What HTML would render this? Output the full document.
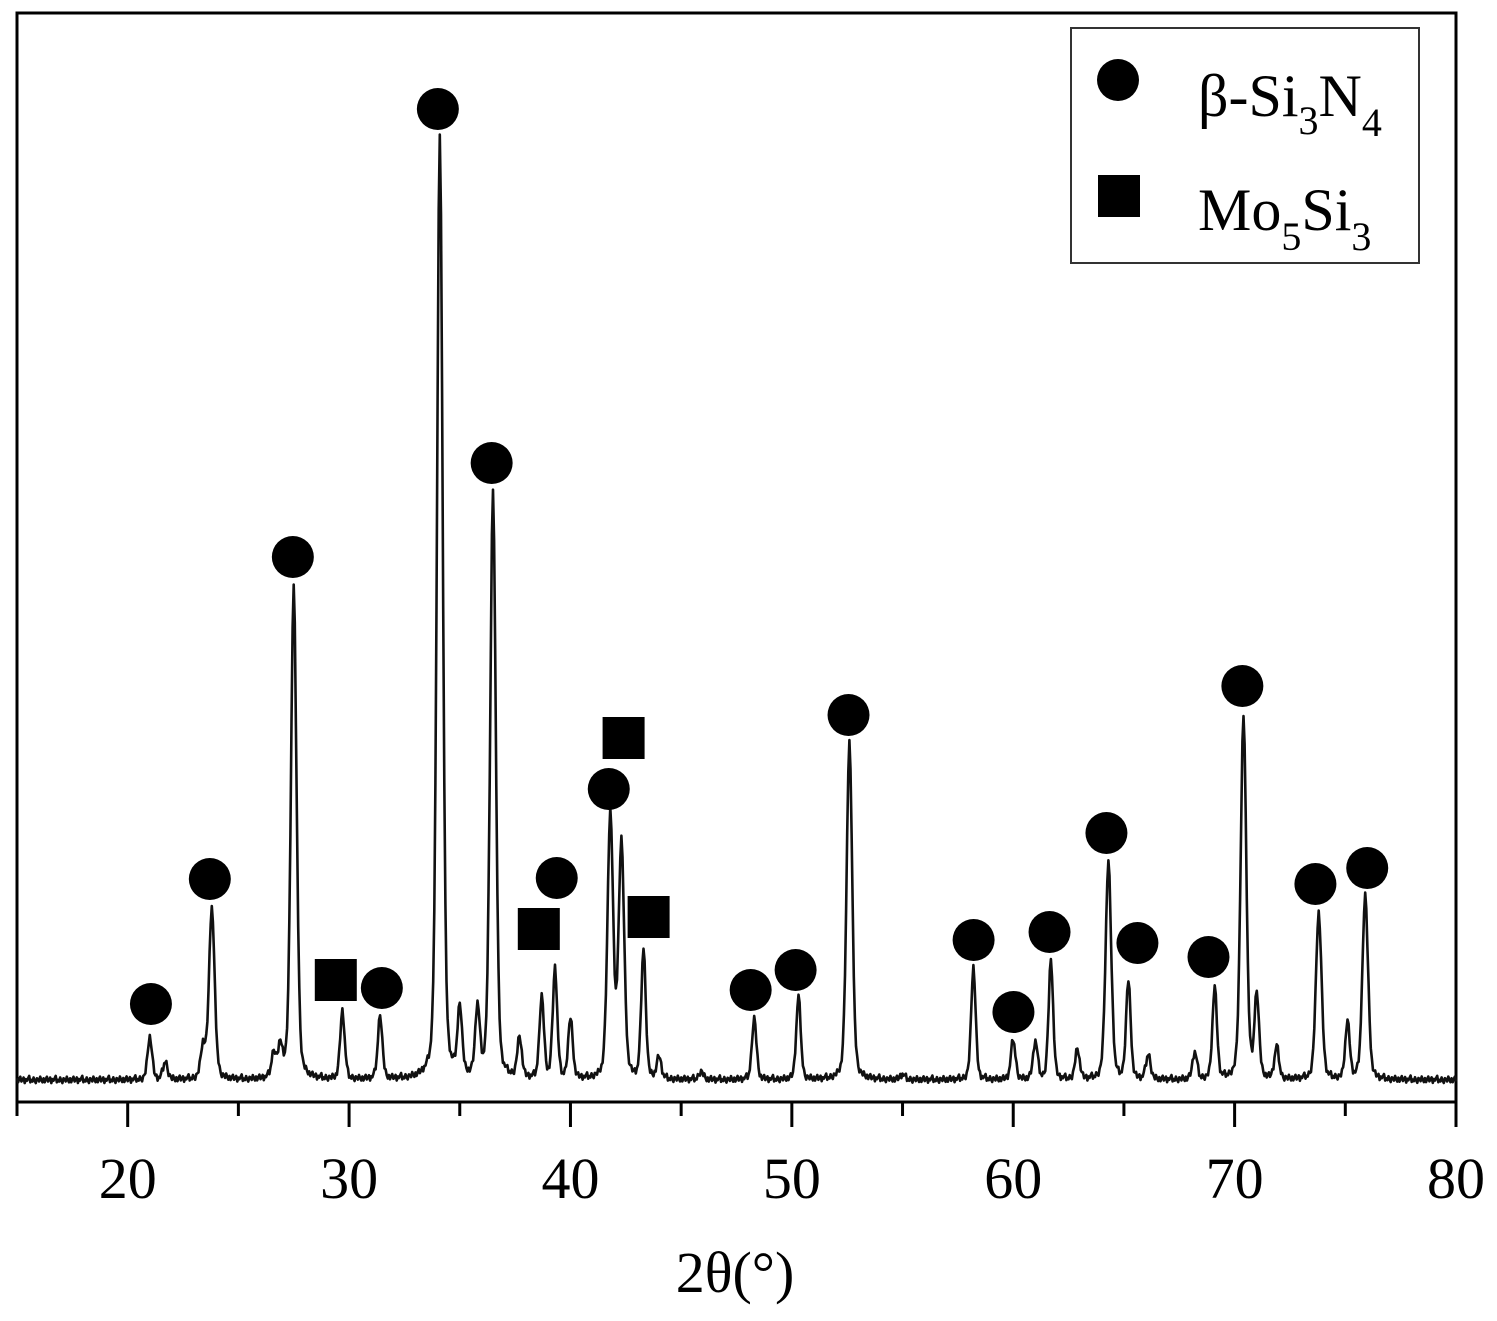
<!DOCTYPE html>
<html><head><meta charset="utf-8"><style>
body{margin:0;background:#fff}
svg{display:block;font-family:"Liberation Serif",serif}
</style></head><body>
<svg id="chart" width="1497" height="1321" viewBox="0 0 1497 1321">
<rect x="17" y="13" width="1439" height="1089" fill="none" stroke="#000" stroke-width="3"/>
<g id="ticks"></g>
<path id="trace" fill="none" stroke="#111" stroke-width="2.6" stroke-linejoin="round"/>
<g id="marks"></g>
<text x="735" y="1292" font-size="58" text-anchor="middle">2θ(°)</text>
<g>
<rect x="1071" y="28" width="348" height="235" fill="#fff" stroke="#333" stroke-width="2"/>
<circle cx="1118" cy="80" r="21" fill="#000"/>
<text x="1198" y="116" font-size="60">β-Si<tspan font-size="40" dy="18">3</tspan><tspan dy="-18">N</tspan><tspan font-size="40" dy="20">4</tspan></text>
<rect x="1098" y="175" width="42" height="42" fill="#000"/>
<text x="1198" y="230" font-size="60">Mo<tspan font-size="40" dy="20">5</tspan><tspan dy="-20">Si</tspan><tspan font-size="40" dy="20">3</tspan></text>
</g>
</svg>
<script>
const peakPos=[21.0,21.7,23.4,23.8,26.6,26.9,27.5,29.7,31.4,34.1,35.0,35.8,36.5,37.7,38.7,39.3,40.0,41.8,42.3,43.3,44.0,45.9,48.3,50.3,52.6,55.0,58.2,60.0,61.0,61.7,62.9,64.3,65.2,66.1,68.2,69.1,70.4,71.0,71.9,73.8,75.1,75.9];
const peakInt=[43,18,32,172,25,30,493,68,64,944,68,68,588,40,82,110,60,265,235,130,22,8,62,83,339,5,113,40,38,120,30,218,98,25,27,92,364,83,32,167,57,185];
const noise=[2,-3,1,4,-2,0,3,-4,1,-1,2,5,-3,0,-2,3,-1,-4,2,1,-2,4,0,-3];
const xTicks=[20,30,40,50,60,70,80];
const circlePos=[21.05,23.71,27.46,31.48,34.01,36.44,39.38,41.73,48.14,50.17,52.56,58.21,60.01,61.64,64.21,65.61,68.82,70.35,73.65,75.99];
const circleLevel=[76,201,523,92,971,617,202,291,90,110,365,140,68,148,247,137,123,394,196,212];
const squarePos=[29.40,38.57,42.40,43.53];
const squareLevel=[100,151,342,163];

const X0=15,X1=80,PX0=17,PX1=1456;
const xs=v=>PX0+(v-X0)*(PX1-PX0)/(X1-X0);
const ys=v=>1080-v;
const NS="http://www.w3.org/2000/svg";
const tg=document.getElementById('ticks');
for(let v=15;v<=80;v+=5){
  const l=document.createElementNS(NS,'line');
  const major=v%10===0;
  l.setAttribute('x1',xs(v));l.setAttribute('x2',xs(v));
  l.setAttribute('y1',1102);l.setAttribute('y2',major?1127:1116);
  l.setAttribute('stroke','#000');l.setAttribute('stroke-width',3);
  
  
  tg.appendChild(l);
}
xTicks.forEach(v=>{
  const t=document.createElementNS(NS,'text');
  t.setAttribute('x',xs(v));t.setAttribute('y',1198);
  t.setAttribute('font-size',58);t.setAttribute('text-anchor','middle');
  t.textContent=v;
  
  
  tg.appendChild(t);
});
let d='';let i=0;
for(let t=X0;t<=X1+1e-9;t+=0.05,i++){
  let I=noise[i%noise.length]*0.8;
  for(let k=0;k<peakPos.length;k++){
    const w=peakInt[k]>150?0.15:0.12;
    const dx=(t-peakPos[k])/w;
    I+=peakInt[k]*(0.7*Math.exp(-0.693*dx*dx)+0.3/(1+dx*dx));
  }
  d+=(i?'L':'M')+xs(t).toFixed(1)+','+ys(I).toFixed(1);
}
document.getElementById('trace').setAttribute('d',d);
const mg=document.getElementById('marks');
circlePos.forEach((p,k)=>{
  const c=document.createElementNS(NS,'circle');
  c.setAttribute('cx',xs(p));c.setAttribute('cy',ys(circleLevel[k]));c.setAttribute('r',21);
  c.setAttribute('fill','#000');
  
  
  mg.appendChild(c);
});
squarePos.forEach((p,k)=>{
  const r=document.createElementNS(NS,'rect');
  r.setAttribute('x',xs(p)-21);r.setAttribute('y',ys(squareLevel[k])-21);
  r.setAttribute('width',42);r.setAttribute('height',42);r.setAttribute('fill','#000');
  
  
  mg.appendChild(r);
});
</script>
</body></html>
